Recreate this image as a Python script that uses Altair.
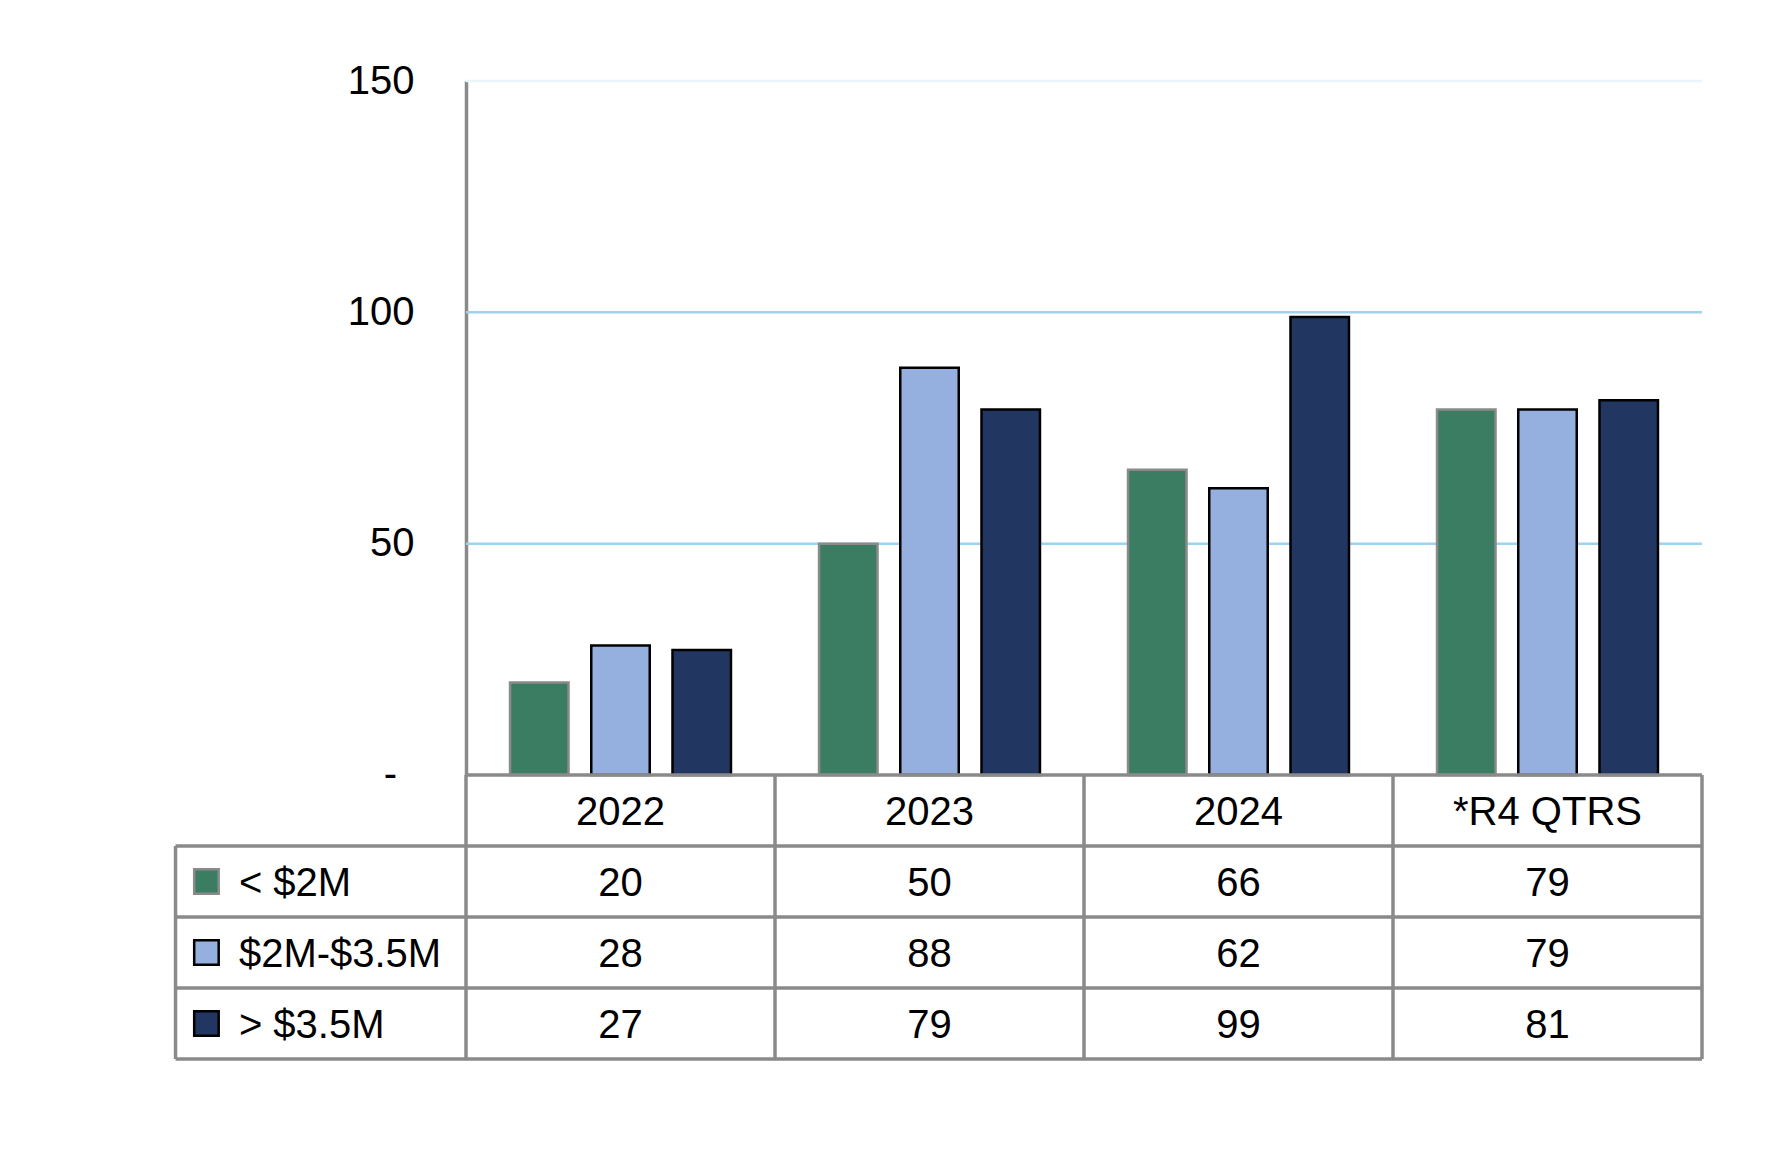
import altair as alt
import pandas as pd

categories = ["2022", "2023", "2024", "*R4 QTRS"]
series = ["< $2M", "$2M-$3.5M", "> $3.5M"]
small = [20, 50, 66, 79]
mid = [28, 88, 62, 79]
large = [27, 79, 99, 81]
colors = ["#3b7d62", "#95b0de", "#213761"]
strokes = ["#8a8a8a", "#000000", "#000000"]
y_ticks = [0, 50, 100, 150]
zero_label = ["-"]
grid_vals = [50, 100, 150]
grid_cols = ["#9dd3ee", "#9dd3ee", "#eaf5fb"]

FONT = "Liberation Sans"
FS = 40
W = 1236
H = 694
TH = 284
LINE = "#8a8a8a"
LW = 3.5
LEG_W = 0.94  # legend column width in column units

rows = []
for s, vals in zip(series, [small, mid, large]):
    for c, v in zip(categories, vals):
        rows.append({"category": c, "series": s, "value": v})
df = pd.DataFrame(rows)

yscale = alt.Scale(domain=[0, 150], nice=False)
yaxis = alt.Axis(values=y_ticks, grid=False, ticks=False, domainColor=LINE,
                 domainWidth=LW, labelFont=FONT, labelFontSize=FS, labelPadding=52,
                 labelColor="#000000", title=None,
                 labelExpr="datum.value == 0 ? '' : datum.label")

grid = alt.Chart(pd.DataFrame({"v": grid_vals, "c": grid_cols})).mark_rule(strokeWidth=2.5).encode(
    y=alt.Y("v:Q", scale=yscale, axis=yaxis),
    color=alt.Color("c:N", scale=None),
    x=alt.value(0),
    x2=alt.value(W),
)

zero_txt = alt.Chart(pd.DataFrame({"v": [0], "t": zero_label})).mark_text(
    font=FONT, fontSize=FS, color="#000000", align="right", baseline="middle", dx=-69
).encode(
    y=alt.Y("v:Q", scale=yscale, axis=yaxis),
    x=alt.value(0),
    text="t:N",
)

bars = alt.Chart(df).mark_bar(strokeWidth=2.5).encode(
    x=alt.X("category:N", sort=categories, axis=None,
            scale=alt.Scale(paddingInner=0.285, paddingOuter=0.1425)),
    xOffset=alt.XOffset("series:N", sort=series, scale=alt.Scale(paddingInner=0.28)),
    y=alt.Y("value:Q", scale=yscale, axis=yaxis),
    color=alt.Color("series:N", sort=series, scale=alt.Scale(domain=series, range=colors), legend=None),
    stroke=alt.Stroke("series:N", scale=alt.Scale(domain=series, range=strokes), legend=None),
)

top = alt.layer(grid, bars, zero_txt).properties(width=W, height=H)

# ---- data table ----
xs = alt.Scale(domain=[0, 4], nice=False, zero=False)
ys = alt.Scale(domain=[0, 4], nice=False, zero=False, reverse=True)

h_lines = pd.DataFrame({
    "y": [0, 1, 2, 3, 4],
    "x1": [0, -LEG_W, -LEG_W, -LEG_W, -LEG_W],
    "x2": [4, 4, 4, 4, 4],
})
v_lines = pd.DataFrame({
    "x": [-LEG_W, 0, 1, 2, 3, 4],
    "y1": [1, 0, 0, 0, 0, 0],
    "y2": [4, 4, 4, 4, 4, 4],
})

hdr = pd.DataFrame({"x": [i + 0.5 for i in range(len(categories))], "y": [0.5] * len(categories),
                    "t": categories})
val_rows = []
for r, (s, vals) in enumerate(zip(series, [small, mid, large])):
    for i, v in enumerate(vals):
        val_rows.append({"x": i + 0.5, "y": r + 1.5, "t": str(v)})
vals_df = pd.DataFrame(val_rows)
leg_df = pd.DataFrame({"series": series, "y": [r + 1.5 for r in range(len(series))],
                       "xs": [-0.84] * 3, "xt": [-0.735] * 3})

hl = alt.Chart(h_lines).mark_rule(color=LINE, strokeWidth=LW).encode(
    x=alt.X("x1:Q", scale=xs, axis=None), x2="x2:Q", y=alt.Y("y:Q", scale=ys, axis=None))
vl = alt.Chart(v_lines).mark_rule(color=LINE, strokeWidth=LW).encode(
    x=alt.X("x:Q", scale=xs, axis=None), y=alt.Y("y1:Q", scale=ys, axis=None), y2="y2:Q")
txt_h = alt.Chart(hdr).mark_text(font=FONT, fontSize=FS, color="#000000", baseline="middle", dy=2).encode(
    x=alt.X("x:Q", scale=xs, axis=None), y=alt.Y("y:Q", scale=ys, axis=None), text="t:N")
txt_v = alt.Chart(vals_df).mark_text(font=FONT, fontSize=FS, color="#000000", baseline="middle", dy=2).encode(
    x=alt.X("x:Q", scale=xs, axis=None), y=alt.Y("y:Q", scale=ys, axis=None), text="t:N")
sw = alt.Chart(leg_df).mark_point(shape="square", filled=True, size=600, strokeWidth=2.5, opacity=1).encode(
    x=alt.X("xs:Q", scale=xs, axis=None), y=alt.Y("y:Q", scale=ys, axis=None),
    fill=alt.Fill("series:N", scale=alt.Scale(domain=series, range=colors), legend=None),
    stroke=alt.Stroke("series:N", scale=alt.Scale(domain=series, range=strokes), legend=None),
)
lt = alt.Chart(leg_df).mark_text(font=FONT, fontSize=FS, color="#000000", align="left",
                                 baseline="middle", dy=2).encode(
    x=alt.X("xt:Q", scale=xs, axis=None), y=alt.Y("y:Q", scale=ys, axis=None), text="series:N")

table = alt.layer(hl, vl, sw, txt_h, txt_v, lt).properties(width=W, height=TH)

chart = alt.vconcat(top, table, spacing=0, bounds="flush").properties(
    padding={"left": 165, "top": 53, "right": 20, "bottom": 20}
).configure_view(stroke=None)

chart.save("out.html", embed_options={"renderer": "svg", "actions": False})
